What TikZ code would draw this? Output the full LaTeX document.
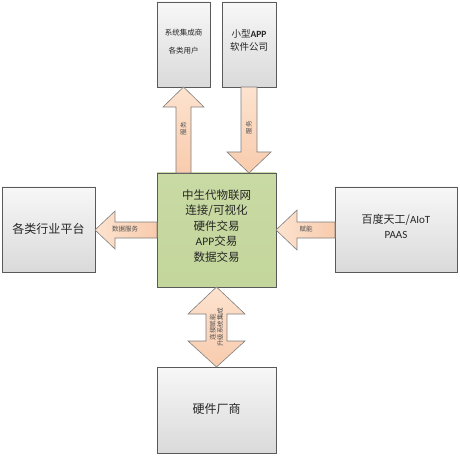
\documentclass[tikz,border=0pt]{standalone}
\usepackage{fontspec}
\setmainfont{Noto Sans CJK SC}
\newfontfamily\lat{Carlito}
\definecolor{boxline}{HTML}{5A5A5A}
\definecolor{boxtop}{HTML}{F7F7F7}
\definecolor{boxbot}{HTML}{DADADA}
\definecolor{greenfill}{HTML}{C3D69B}
\definecolor{greentop}{HTML}{C9DAA4}
\definecolor{peachtop}{HTML}{FDE3CF}
\definecolor{peachbot}{HTML}{F8CBAD}
\definecolor{arrline}{HTML}{7F7F7F}
\definecolor{txt}{HTML}{262626}
\begin{document}
\begin{tikzpicture}[x=1pt,y=-1pt,
  graybox/.style={draw=boxline,line width=0.8pt,top color=boxtop,bottom color=boxbot,text=txt},
  greenbox/.style={draw=boxline,line width=0.8pt,top color=greentop,bottom color=greenfill,text=txt},
  blockarrow/.style={draw=arrline,line width=0.6pt,left color=peachtop,right color=peachbot},
  blockarrowv/.style={draw=arrline,line width=0.6pt,top color=peachtop,bottom color=peachbot},
  lbl/.style={inner sep=0pt,text=txt!80,font=\fontsize{6.5}{7}\selectfont}
]
\useasboundingbox (0,0) rectangle (460,457);
\fill[white] (0,0) rectangle (460,457);

% boxes
\path[graybox] (157,2) rectangle (210,87);
\node[inner sep=0pt,align=center,font=\fontsize{7.5}{18}\selectfont,text=txt] (sys) at (183.5,42) {系统集成商\\各类用户};
\path[graybox] (222,2) rectangle (276,87);
\node[inner sep=0pt,align=center,font=\fontsize{9.5}{13}\selectfont,text=txt] (app) at (249,40) {小型{\lat\bfseries APP}\\软件公司};

\path[greenbox] (157,173) rectangle (276,287);
\node[inner sep=0pt,align=center,font=\fontsize{11.5}{15.5}\selectfont,text=txt] (core) at (216.5,226) {中生代物联网\\连接/可视化\\硬件交易\\{\lat APP}交易\\数据交易};

\path[graybox] (2,187) rectangle (95,272);
\node[inner sep=0pt,font=\fontsize{12}{14}\selectfont,text=txt] (ind) at (48.5,229) {各类行业平台};

\path[graybox] (335,187) rectangle (457,272);
\node[inner sep=0pt,align=center,font=\fontsize{11}{15}\selectfont,text=txt] (paas) at (396,226) {百度天工/{\lat AIoT}\\{\lat PAAS}};

\path[graybox] (157,367) rectangle (276,453);
\node[inner sep=0pt,font=\fontsize{12}{14}\selectfont,text=txt] (hw) at (216.5,409) {硬件厂商};

% up arrow (service to sys)
\path[blockarrowv] (183.5,87) -- (204,107) -- (191,107) -- (191,173) -- (176,173) -- (176,107) -- (163,107) -- cycle;
\node[lbl,rotate=90] (l1) at (183.5,129) {服务};
% down arrow (from app)
\path[blockarrowv] (241,87) -- (257,87) -- (257,152) -- (271,152) -- (249,173) -- (227,152) -- (241,152) -- cycle;
\node[lbl,rotate=90] (l2) at (249,128) {服务};
% right arrow pointing left (from paas)
\path[blockarrow] (276,230) -- (297,210) -- (297,222) -- (335,222) -- (335,238) -- (297,238) -- (297,250) -- cycle;
\node[lbl] (l3) at (306,229) {赋能};
% left arrow (to industry)
\path[blockarrow] (95,230) -- (115,211) -- (115,222) -- (157,222) -- (157,238) -- (115,238) -- (115,249) -- cycle;
\node[lbl] (l4) at (125,229) {数据服务};
% double arrow
\path[blockarrowv] (216.5,287) -- (245,314) -- (227,314) -- (227,341) -- (245,341) -- (216.5,367) -- (188,341) -- (206,341) -- (206,314) -- (188,314) -- cycle;
\node[lbl,rotate=90,align=center,font=\fontsize{6.5}{7.5}\selectfont] (l5) at (216.5,327) {连接赋能\\升级系统集成};
\end{tikzpicture}
\end{document}
